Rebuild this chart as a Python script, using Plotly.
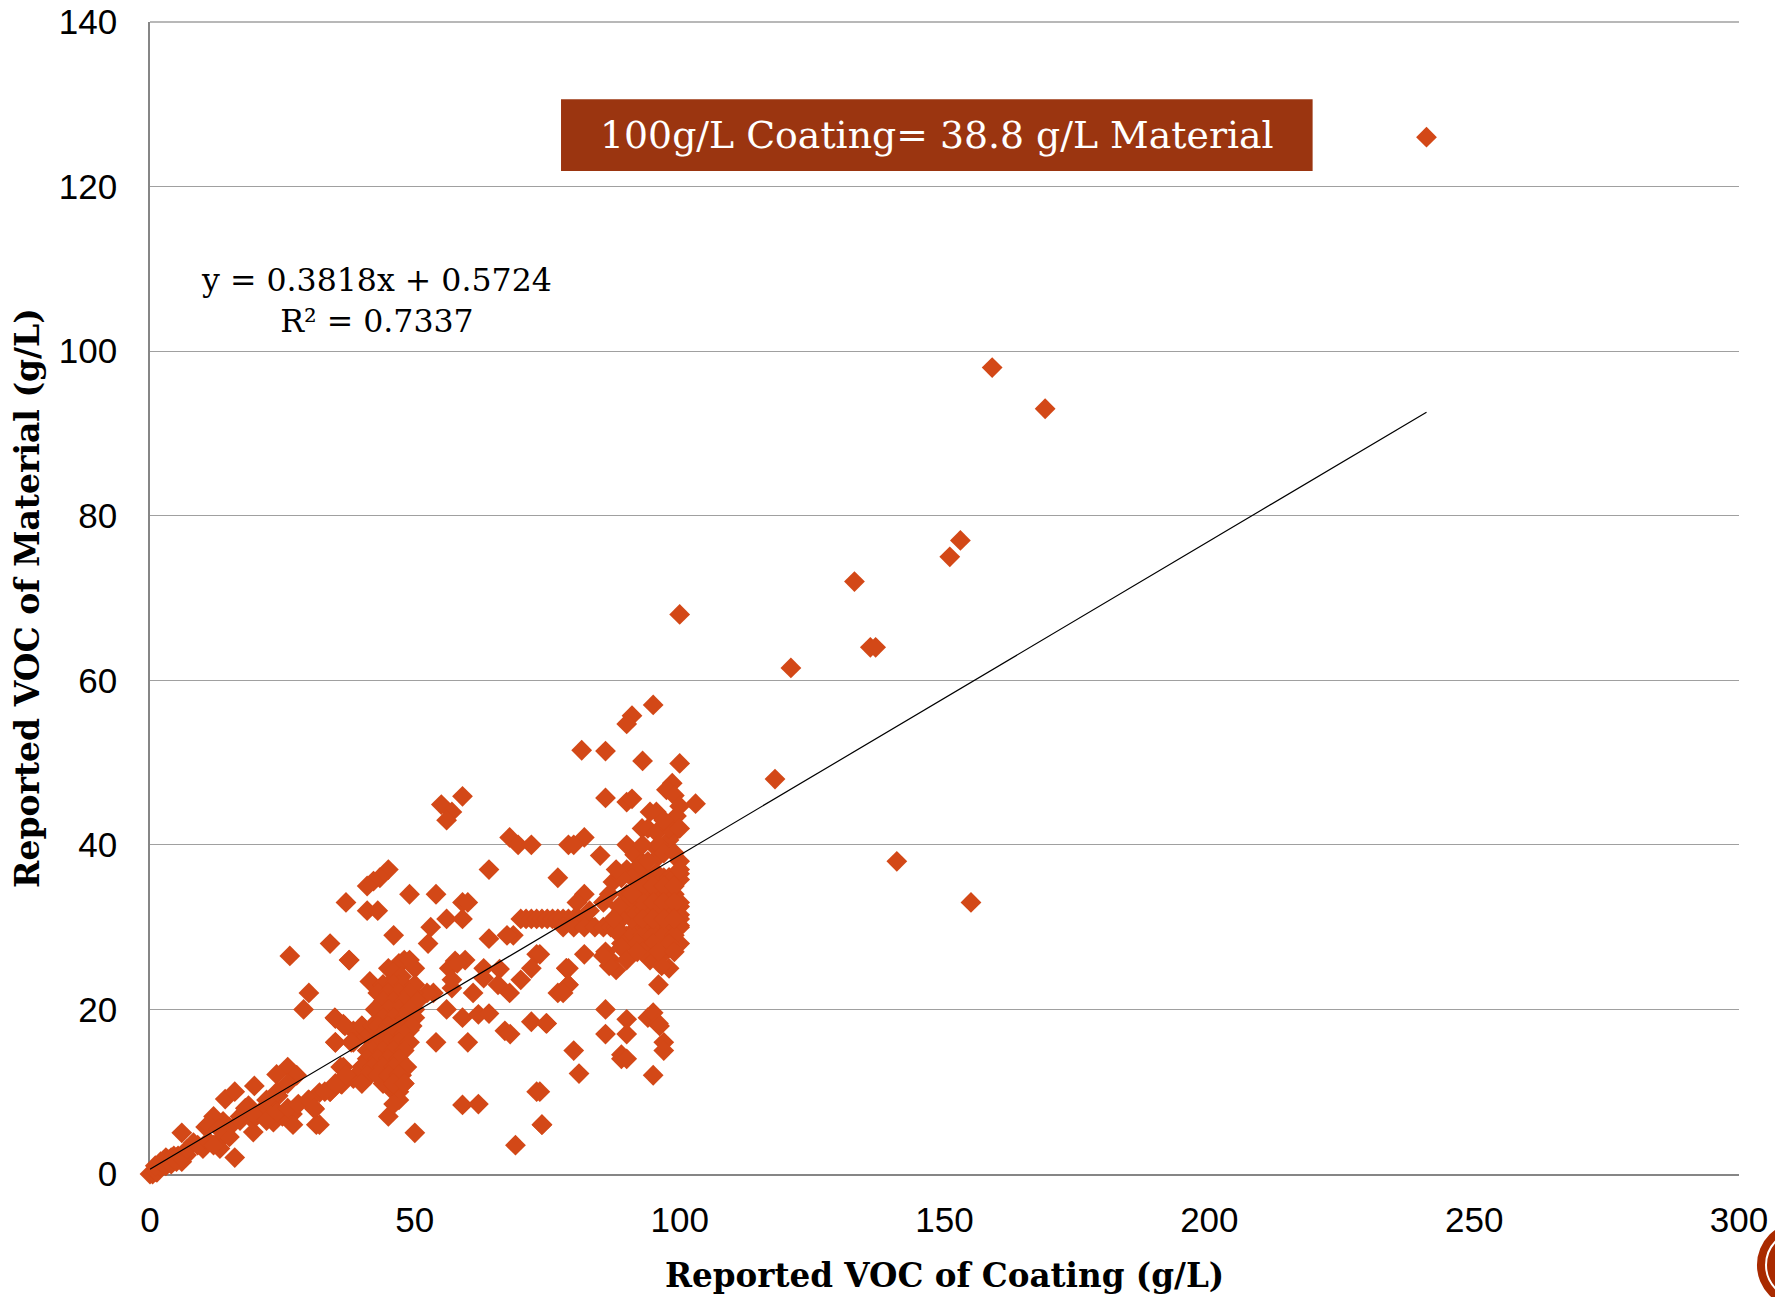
import plotly.graph_objects as go

# Reported VOC of Coating (g/L)
coating = [
 241,159,169,153,151,133,100,121,136,137,118,141,155,
 0,0.5,1,1.5,2,2.5,3,3.5,4,4.5,5,5.5,6,6.9,1.3,1.9,3.8,5.3,
 6,10.5,13.8,15,13.2,13.5,10,8.2,16,14.2,16,19.7,18.6,21.4,23.3,24.2,23.3,19.5,19.2,
 26,23.9,27.7,29.9,32,34,36.2,36.5,38.4,31.1,26.9,27,31.4,30,29,26.4,37.6,
 41.5,34.9,36.5,38.4,40,35,38.4,41,20,17,21.5,25,12,11,
 59,55,57,56,67.9,69.5,72,79,64,77,45,43.4,42.2,41,37,41,43,49,54,59,60,56,59,53,52.5,46,64,
 68.6,67.4,34,37.6,59.5,57.6,56.5,58,73,72,63,66,63,70,65.7,67.9,77,79,78.6,61,57,57,53.5,52.3,
 56,59,62,64,72,74.9,67,68,54,60,73,59,62,74,69,50,45,
 46,47,46.6,35,36.8,40,35,38,36,36,34,39.7,
 48,47,45,50,49,44.3,46,47.5,49.7,43,44.5,46,48,50,44,46,48,49.5,49,47,44.5,43,41.5,41,43,44.5,46,
 47.5,47,46,42,40,41.5,44,46,48,45,47,49,42,44,46,48,43,45,47,
 95,91,90,81.5,86,93,100,86,90,91,103,98.6,97.5,99,100,99.4,94.4,95.6,92.9,94,95.6,99,98,
 82,80,85,90,91.5,95.6,96,100,92.6,90,87.4,86.7,82,80.6,85.6,90,94.4,99,100,95.6,98,
 96,97,99,100,100,97.5,92,90,91,94,100,100,100,94.4,97,98,96.6,82,78.6,86,87,88,86.7,73.6,
 70,71,72,73,74,75,76,77,78,79,80,81,82,78,80,82,84,85.6,87,83,
 79,79,78,86,86,90,90,94,95,96,96.2,97,97,96,95,80,81,89,89,90,74.8,73.6,74,85.6,
 92,93,94,95,96,97,98,99,100,90,92,94,96,98,100,91,93,95,97,99,100,92,94,96,98,100,
 88,89,91,93,95,97,99,89,92,95,98,93,96,99,
 44,46,48,50,43,45,47,49,44,46,48,50.5,42.5,45,47,49,44,46,48,50,43,45,47,49.5,44,46,48,
 43,45,47,49,42,44,46,48,41,43,45,47,40,42,44,46,48.5,39,41,43,45,47,40,46,48,
 93,95,97,99,91,93,95,97,99,91,93,95,97,99,
 92,94,96,98,97,100,93,97,99,91,89,88,
 1,2,3,4,5,6,7,9,11,12,14,15,13,17,18,20,22,24,26,28,22,24,26,30,33,35,37,31,32,
 89,88,90,89,91,90,88.5,92,87.5,
]
# Reported VOC of Material (g/L)
material = [
 126,98,93,77,75,72,68,61.5,64,64,48,38,33,
 0,0,0.3,0.5,1,1.5,2,1.7,2,2.2,2,2,1.5,2.3,0.2,1,1.4,2.2,
 5,5.7,6.4,5.7,3.1,4.3,3.1,3.8,2,9.1,10,10.7,8.3,7.1,6.3,9.5,8,5.1,6.7,
 13,12.1,12,9,9.9,10,10.9,13,11.6,7.9,7.3,6,6,22,20,26.5,26,
 23.4,19,18.2,17.4,18,16,16,16.7,7,6.5,8,7,7,6,
 45.9,44.9,44,43,40.9,40,40,40,37,36,37,36,35.6,35,33,32,32,34,34,33,33,31,31,30,28,29,28.6,
 29,29,28,26,26,25.9,25,25.6,26.7,25,25,24.9,23.8,23.6,23,22,22,23,25,22,22.6,23.6,22,22,
 20,19,19.4,19.5,18.5,18.3,17.4,17,16,16,10,8.4,8.5,6,3.5,5,7,
 10,10,12,18.9,18,18,16,16,13,11,10,11.6,
 26,25.6,25,25,26,22,24.5,24,22,20,20.5,20,20,20,23,22.5,22,21,17.5,15,18,18,17,15,14.5,13,13,
 12,9,8.5,14,13,12,11,11,11,23,23,22,18,18,18,18,16,16,16,
 57,55.7,54.7,51.5,51.4,50.2,49.9,45.7,45.2,45.6,45,47.5,46.7,46,44.7,43.5,44,44,42,42,41.5,41.5,40.6,
 40.9,40,38.7,40,38.8,39.6,38.6,38,37.6,37,35.5,34,34,33,33,32,34,34,35.8,36.6,36,
 33,34,33,32.5,31.5,32,30,28.9,28,29,30.2,28,36.5,26,26.8,25,25.3,26.7,25,27,26,24.8,25.3,26.7,
 31,31,31,31,31,31,31,31,31,31,31,31,31,30,30,30,30,30,30,32,
 25,23,22,20,17,18.8,17,19,19.6,18.3,18,16,15,23,12,15,12.2,14.5,14,14,18.3,10,6,26.5,
 36,36,36,36,36,36,36,36,37,34,34,34,34,34,33,32,32,32,32,32,31,30,30,30,30,30,
 30,32,29,29,29,29,29,28,28,28,28,27,27,27,
 23,23,23,23,22,22,22,22,21,21,21,21,20,20,20,20,19,19,19,19,18,18,18,18,17,17,17,
 16,16,16,16,15,15,15,15,14,14,14,14,13,13,13,13,13,12,12,12,12,12,11,11,11,
 35,35,35,35,33,33,33,33,33,31,31,31,31,31,
 37,38,40,42,43,42,40,39,39,36,36,37,
 1,1.5,1,1.2,1.5,2,3,3.5,4,3.5,5,4.5,5.5,7,8,7,6.5,7.5,8,8.5,9,10,11,9,10,11,12,8,6,
 31,29.5,33,27.5,34,26,32.5,27,31,
]

trend_x = [0, 241]
slope, intercept = 0.3818, 0.5724
trend_y = [slope * v + intercept for v in trend_x]

x_ticks = [0, 50, 100, 150, 200, 250, 300]
y_ticks = [0, 20, 40, 60, 80, 100, 120, 140]

SERIF = "DejaVu Serif"
n = min(len(coating), len(material))
HIDE = "rgba(0,0,0,0)"

fig = go.Figure()
fig.add_trace(go.Scatter(x=coating[:n], y=material[:n], mode="markers", cliponaxis=False,
                         marker=dict(symbol="diamond", size=16, color="#D34817", line=dict(width=0)),
                         showlegend=False))
fig.add_trace(go.Scatter(x=trend_x, y=trend_y, mode="lines", cliponaxis=False,
                         line=dict(color="#000000", width=1.2), showlegend=False))

fig.update_layout(
    width=1775, height=1289, margin=dict(l=142, r=44, t=14, b=123, autoexpand=False),
    paper_bgcolor="white", plot_bgcolor="white", showlegend=False,
    font=dict(family="Liberation Sans", size=35, color="black"),
    xaxis=dict(range=[0, 300], tickvals=x_ticks, showgrid=False, zeroline=False, automargin=False,
               showline=True, linecolor="#868686", linewidth=1.5, layer="below traces",
               ticks="outside", ticklen=14, tickcolor=HIDE, ticklabeloverflow="allow",
               tickfont=dict(size=35, family="Liberation Sans")),
    yaxis=dict(range=[0, 140], tickvals=y_ticks, showgrid=True, gridcolor="#A0A0A0", gridwidth=1.3,
               zeroline=False, showline=True, linecolor="#868686", linewidth=1.5, layer="below traces",
               automargin=False,
               ticks="outside", ticklen=24, tickcolor=HIDE, ticklabeloverflow="allow",
               tickfont=dict(size=35, family="Liberation Sans")),
)
fig.add_shape(type="line", xref="paper", yref="paper", x0=0, x1=1, y0=1, y1=1,
              line=dict(color="#A0A0A0", width=1.3), layer="below")
fig.add_annotation(xref="paper", yref="paper", x=0.5, y=-0.0877, xanchor="center", yanchor="middle",
                   showarrow=False, text="<b>Reported VOC of Coating (g/L)</b>",
                   font=dict(family=SERIF, size=32.6))
fig.add_annotation(xref="paper", yref="paper", x=-0.0774, y=0.5, xanchor="center", yanchor="middle",
                   showarrow=False, textangle=-90, text="<b>Reported VOC of Material (g/L)</b>",
                   font=dict(family=SERIF, size=33))
fig.add_shape(type="rect", xref="x", yref="y", x0=77.6, x1=219.5, y0=121.9, y1=130.6,
              fillcolor="#9B3510", line=dict(width=0), layer="above")
fig.add_annotation(xref="x", yref="y", x=148.6, y=126.3, text="100g/L Coating= 38.8 g/L Material",
                   showarrow=False, font=dict(family=SERIF, size=37.8, color="white"))
fig.add_annotation(xref="x", yref="y", x=42.7, y=106.2, align="center",
                   text="y = 0.3818x + 0.5724<br>R² = 0.7337", showarrow=False,
                   font=dict(family=SERIF, size=31.6, color="black"))
fig.add_shape(type="circle", xref="paper", yref="paper", x0=1.0113, x1=1.0654, y0=-0.1163, y1=-0.0417,
              fillcolor="#A92A00", line=dict(width=0), layer="above")
fig.add_shape(type="circle", xref="paper", yref="paper", x0=1.0170, x1=1.0600, y0=-0.1085, y1=-0.0495,
              fillcolor="#A92A00", line=dict(color="white", width=2), layer="above")
fig.write_html("out.html")
